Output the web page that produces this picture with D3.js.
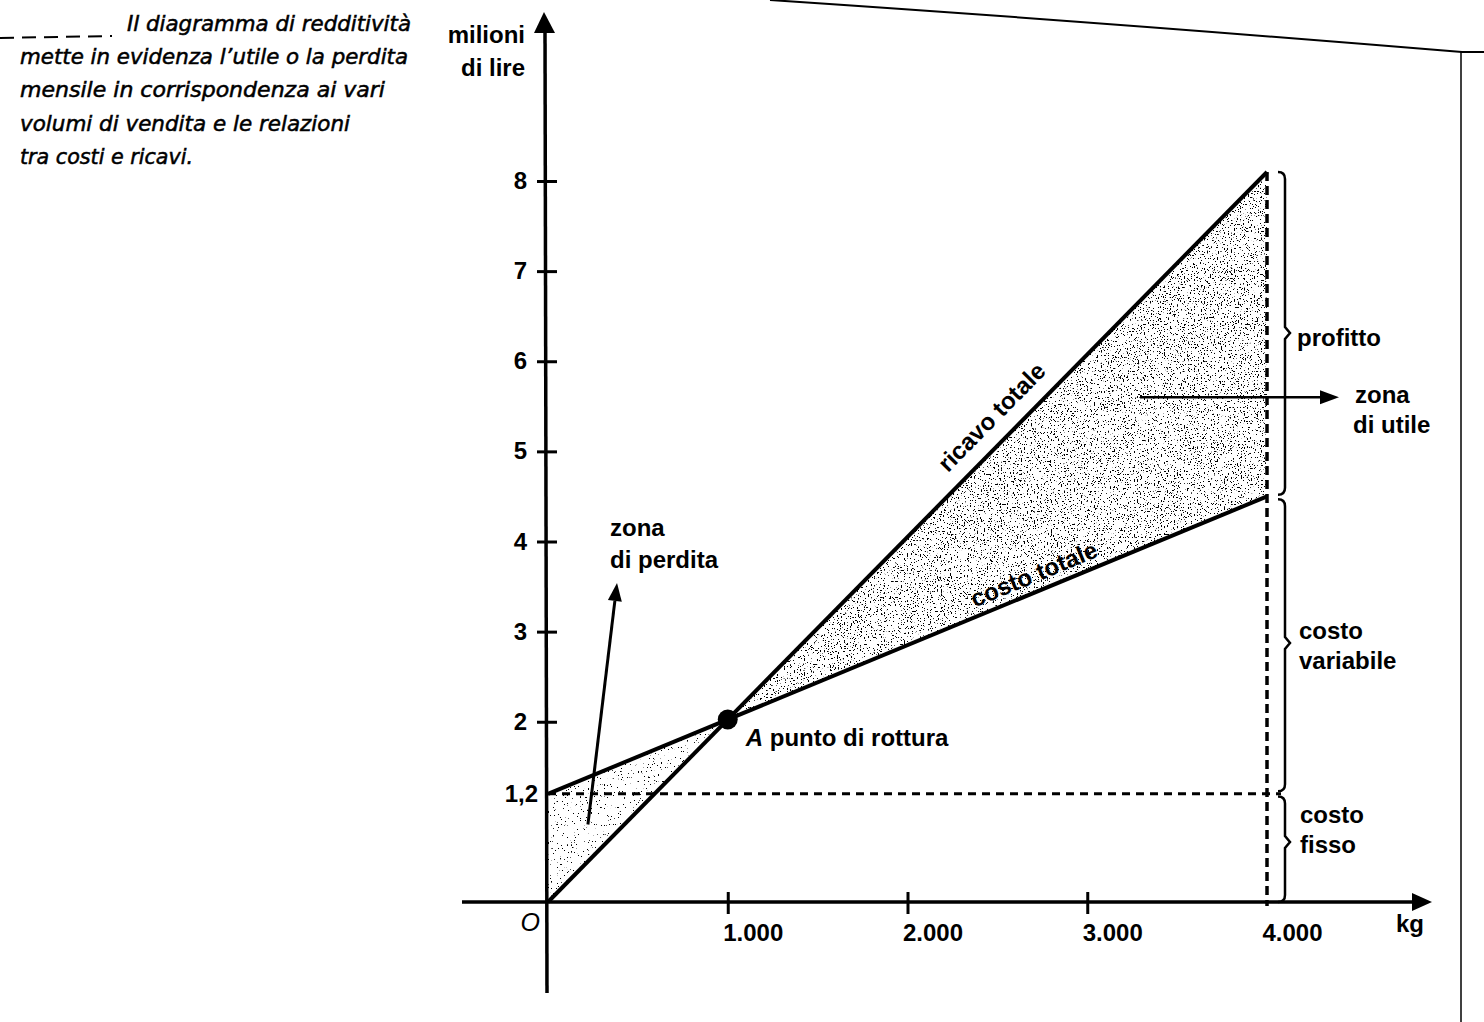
<!DOCTYPE html>
<html>
<head>
<meta charset="utf-8">
<script src="https://cdn.jsdelivr.net/npm/d3@7/dist/d3.min.js"></script>
<style>
  html, body { margin: 0; padding: 0; background: #fff; }
  svg { display: block; }
  .lbl { font-family: "Liberation Sans", Arial, sans-serif; font-size: 24px; font-weight: bold; fill: #000; }
  .cap { font-family: "DejaVu Sans Condensed", "DejaVu Sans", sans-serif; font-style: italic; font-size: 22px; fill: #000; stroke: #000; stroke-width: 0.5px; }
</style>
</head>
<body>
<script>
// ---------------- data ----------------
const volume = [0, 4000];              // kg
const revenue = [0, 8.1];              // ricavo totale (milioni di lire)
const totalCost = [1.2, 4.5];          // costo totale
const fixedCost = [1.2, 1.2];          // costo fisso
const breakEven = [1000, 2.025];       // A punto di rottura
const xTicks = [1000, 2000, 3000, 4000];
const xTickLabels = ["1.000", "2.000", "3.000", "4.000"];
const yTicks = [2, 3, 4, 5, 6, 7, 8];
const yLabelValues = [1.2, 2, 3, 4, 5, 6, 7, 8];
const yLabelTexts = ["1,2", "2", "3", "4", "5", "6", "7", "8"];
const captionLines = [
  "Il diagramma di redditività",
  "mette in evidenza l’utile o la perdita",
  "mensile in corrispondenza ai vari",
  "volumi di vendita e le relazioni",
  "tra costi e ricavi."
];
const captionWidths = [284, 388, 365, 330, 173];

// ---------------- setup ----------------
const W = 1484, H = 1022;
const svg = d3.select("body").append("svg").attr("width", W).attr("height", H);

const x = d3.scaleLinear().domain([0, 4000]).range([548, 1267]);
const y = d3.scaleLinear().domain([0, 8]).range([902, 181]);

// ---------------- stipple filters ----------------
const defs = svg.append("defs");
function stipple(id, thr, seed, freq) {
  const f = defs.append("filter").attr("id", id)
    .attr("filterUnits", "userSpaceOnUse")
    .attr("x", 0).attr("y", 0).attr("width", W).attr("height", H);
  f.append("feTurbulence").attr("type", "fractalNoise").attr("baseFrequency", freq)
    .attr("numOctaves", 2).attr("seed", seed).attr("result", "noise");
  f.append("feColorMatrix").attr("in", "noise").attr("type", "matrix")
    .attr("values", `0 0 0 0 0  0 0 0 0 0  0 0 0 0 0  30 0 0 0 ${-30 * thr}`)
    .attr("result", "dots");
  f.append("feComposite").attr("in", "dots").attr("in2", "SourceGraphic")
    .attr("operator", "in");
}
stipple("stipProfit", 0.63, 4, 0.7);
stipple("stipLoss", 0.69, 7, 0.7);

// ---------------- scan artefacts (page edge) ----------------
svg.append("path").attr("d", "M770,0 Q1100,22 1462,52 L1484,52")
  .attr("fill", "none").attr("stroke", "#000").attr("stroke-width", 2);
svg.append("line").attr("x1", 1461).attr("x2", 1461).attr("y1", 52).attr("y2", H)
  .attr("stroke", "#000").attr("stroke-width", 1.5);
svg.append("line").attr("x1", 0).attr("x2", 112).attr("y1", 38).attr("y2", 36)
  .attr("stroke", "#000").attr("stroke-width", 2).attr("stroke-dasharray", "14 8");

// ---------------- caption ----------------
captionLines.forEach((t, i) => {
  svg.append("text").attr("class", "cap")
    .attr("x", i === 0 ? 127 : 20).attr("y", 31 + i * 33.2)
    .attr("textLength", captionWidths[i]).attr("lengthAdjust", "spacingAndGlyphs")
    .text(t);
});

// ---------------- shaded zones ----------------
const profitPoly = [breakEven, [volume[1], revenue[1]], [volume[1], totalCost[1]]];
const lossPoly = [[volume[0], revenue[0]], [volume[0], totalCost[0]], breakEven];
const poly = d3.line().x(d => x(d[0])).y(d => y(d[1]));
svg.append("path").attr("d", poly(profitPoly) + "Z").attr("fill", "#000")
  .attr("filter", "url(#stipProfit)");
svg.append("path").attr("d", poly(lossPoly) + "Z").attr("fill", "#000")
  .attr("filter", "url(#stipLoss)");

// ---------------- dashed reference lines ----------------
svg.append("line")
  .attr("x1", x(0)).attr("x2", x(4000) + 14)
  .attr("y1", y(fixedCost[0])).attr("y2", y(fixedCost[1]))
  .attr("stroke", "#000").attr("stroke-width", 3).attr("stroke-dasharray", "8 6");
svg.append("line")
  .attr("x1", x(volume[1])).attr("x2", x(volume[1]))
  .attr("y1", y(revenue[1])).attr("y2", y(0) + 4)
  .attr("stroke", "#000").attr("stroke-width", 3.5).attr("stroke-dasharray", "9 5");

// ---------------- axes ----------------
const axisCol = "#000";
svg.append("line").attr("x1", 462).attr("x2", 1418).attr("y1", y(0)).attr("y2", y(0))
  .attr("stroke", axisCol).attr("stroke-width", 3.5);
svg.append("path").attr("d", `M1432,${y(0)} L1412,${y(0) - 9} L1412,${y(0) + 9} Z`).attr("fill", axisCol);
svg.append("line").attr("x1", x(0) - 1).attr("x2", x(0) - 3).attr("y1", 993).attr("y2", 28)
  .attr("stroke", axisCol).attr("stroke-width", 3.5);
svg.append("path").attr("d", `M${x(0) - 4},12 L${x(0) - 14},33 L${x(0) + 7},33 Z`).attr("fill", axisCol);

const gx = svg.append("g").attr("transform", `translate(0,${y(0)})`)
  .call(d3.axisBottom(x).tickValues(xTicks).tickFormat((d, i) => xTickLabels[i]).tickSizeInner(12).tickSizeOuter(0));
gx.select(".domain").remove();
gx.selectAll(".tick line").attr("y1", -10).attr("y2", 12).attr("stroke", "#000").attr("stroke-width", 3);
gx.selectAll(".tick").filter(d => d === 4000).select("line").remove();
gx.selectAll(".tick text").attr("class", "lbl").attr("text-anchor", "start")
  .attr("dx", -5).attr("y", 0).attr("dy", 39);
gx.attr("font-size", null).attr("font-family", null);

const gy = svg.append("g").attr("transform", `translate(${x(0)},0)`)
  .call(d3.axisLeft(y).tickValues(yTicks).tickFormat("").tickSizeInner(12).tickSizeOuter(0));
gy.select(".domain").remove();
gy.selectAll(".tick line").attr("x1", -11).attr("x2", 9).attr("stroke", "#000").attr("stroke-width", 3);

svg.selectAll("text.ylab").data(yLabelValues).enter().append("text")
  .attr("class", "lbl ylab").attr("text-anchor", "end")
  .attr("x", (d, i) => i === 0 ? 538 : 527).attr("y", d => y(d) + 8)
  .text((d, i) => yLabelTexts[i]);

svg.append("text").attr("class", "lbl").attr("x", 540).attr("y", 931)
  .attr("text-anchor", "end").style("font-style", "italic").style("font-weight", "normal").style("font-size", "25px").text("O");
svg.append("text").attr("class", "lbl").attr("x", 1396).attr("y", 932).text("kg");
svg.append("text").attr("class", "lbl").attr("x", 525).attr("y", 43).attr("text-anchor", "end").text("milioni");
svg.append("text").attr("class", "lbl").attr("x", 525).attr("y", 76).attr("text-anchor", "end").text("di lire");

// ---------------- revenue & cost lines ----------------
const seriesLine = d3.line().x((d, i) => x(volume[i])).y(d => y(d));
svg.append("path").attr("d", seriesLine(revenue)).attr("fill", "none")
  .attr("stroke", "#000").attr("stroke-width", 4);
svg.append("path").attr("d", seriesLine(totalCost)).attr("fill", "none")
  .attr("stroke", "#000").attr("stroke-width", 4);

// break-even point
svg.append("circle").attr("cx", x(breakEven[0])).attr("cy", y(breakEven[1]))
  .attr("r", 10).attr("fill", "#000");
const pr = svg.append("text").attr("class", "lbl")
  .attr("x", x(breakEven[0]) + 18).attr("y", y(breakEven[1]) + 27);
pr.append("tspan").style("font-style", "italic").text("A");
pr.append("tspan").text(" punto di rottura");

// rotated labels along lines
function lineLabel(vals, t, off, txt) {
  const x0 = x(volume[0]), y0 = y(vals[0]), x1 = x(volume[1]), y1 = y(vals[1]);
  const dx = x1 - x0, dy = y1 - y0, len = Math.hypot(dx, dy);
  const ux = dx / len, uy = dy / len;
  const cx = x0 + dx * t + uy * off, cy = y0 + dy * t - ux * off;
  const ang = Math.atan2(dy, dx) * 180 / Math.PI;
  svg.append("text").attr("class", "lbl").attr("text-anchor", "middle")
    .attr("transform", `translate(${cx},${cy}) rotate(${ang}) translate(0,8)`)
    .text(txt);
}
lineLabel(revenue, 0.641, 24, "ricavo totale");
lineLabel(totalCost, 0.685, 17, "costo totale");

// ---------------- braces ----------------
const braceX = 1285;
function brace(v0, v1, mid) {
  const a = y(v0), b = y(v1), m = mid;
  const d = `M${braceX - 7},${a} Q${braceX},${a} ${braceX},${a + 7} L${braceX},${m - 6} L${braceX + 5},${m} L${braceX},${m + 6} L${braceX},${b - 7} Q${braceX},${b} ${braceX - 7},${b}`;
  svg.append("path").attr("d", d).attr("fill", "none").attr("stroke", "#000").attr("stroke-width", 2.5);
}
brace(revenue[1], totalCost[1] + 0.02, 333);
brace(totalCost[1] - 0.03, fixedCost[0] + 0.03, 643);
brace(fixedCost[0] - 0.03, 0, 842);

svg.append("text").attr("class", "lbl").attr("x", 1297).attr("y", 346).text("profitto");
svg.append("text").attr("class", "lbl").attr("x", 1299).attr("y", 639).text("costo");
svg.append("text").attr("class", "lbl").attr("x", 1299).attr("y", 669).text("variabile");
svg.append("text").attr("class", "lbl").attr("x", 1300).attr("y", 823).text("costo");
svg.append("text").attr("class", "lbl").attr("x", 1300).attr("y", 853).text("fisso");

// zona di utile arrow
const ua = y(5.6);
svg.append("line").attr("x1", 1140).attr("x2", 1325).attr("y1", ua).attr("y2", ua)
  .attr("stroke", "#000").attr("stroke-width", 2.5);
svg.append("path").attr("d", `M1339,${ua} L1320,${ua - 7} L1320,${ua + 7} Z`).attr("fill", "#000");
svg.append("text").attr("class", "lbl").attr("x", 1355).attr("y", 403).text("zona");
svg.append("text").attr("class", "lbl").attr("x", 1353).attr("y", 433).text("di utile");

// zona di perdita arrow
const pa0 = [x(222), y(0.86)], pa1 = [x(384), y(3.54)];
const pang = Math.atan2(pa1[1] - pa0[1], pa1[0] - pa0[0]);
const back = 18;
const bx = pa1[0] - Math.cos(pang) * back, by = pa1[1] - Math.sin(pang) * back;
svg.append("line").attr("x1", pa0[0]).attr("y1", pa0[1]).attr("x2", bx).attr("y2", by)
  .attr("stroke", "#000").attr("stroke-width", 3);
const nx = -Math.sin(pang) * 7, ny = Math.cos(pang) * 7;
svg.append("path").attr("d", `M${pa1[0]},${pa1[1]} L${bx + nx},${by + ny} L${bx - nx},${by - ny} Z`).attr("fill", "#000");
svg.append("text").attr("class", "lbl").attr("x", 610).attr("y", 536).text("zona");
svg.append("text").attr("class", "lbl").attr("x", 610).attr("y", 568).text("di perdita");
</script>
</body>
</html>
